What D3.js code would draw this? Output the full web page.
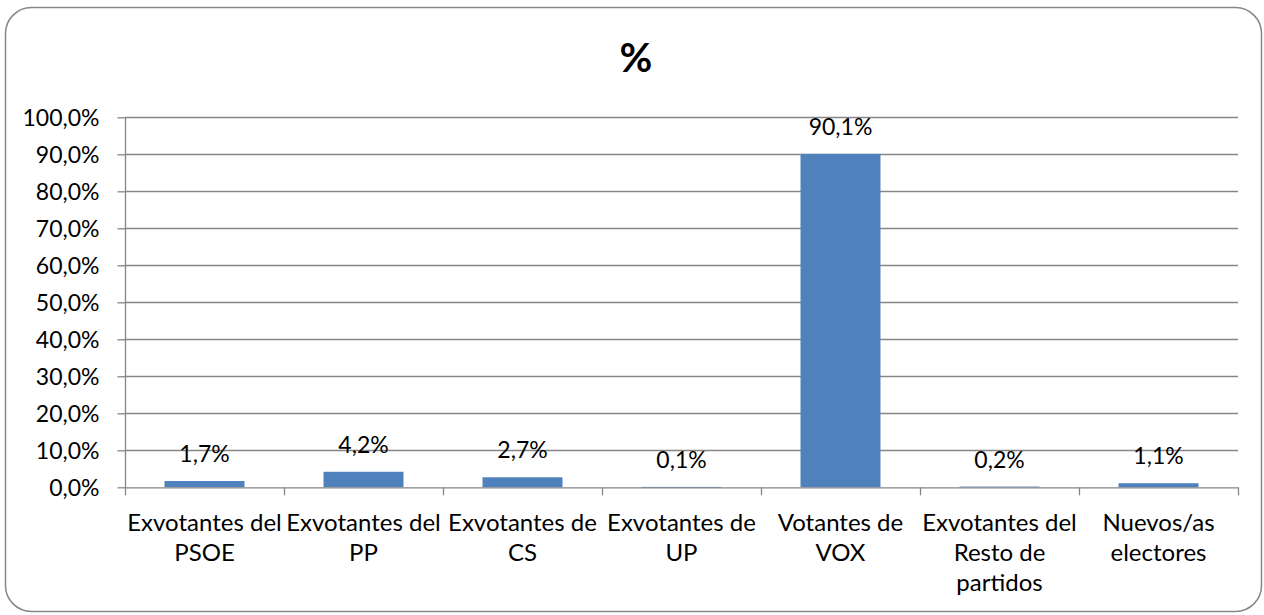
<!DOCTYPE html>
<html><head><meta charset="utf-8">
<script src="https://cdn.jsdelivr.net/npm/d3@7"></script>
<style>
html,body{margin:0;padding:0;background:#fff;}
svg{display:block;}
text{font-family:Lato,"Open Sans",sans-serif;fill:#000;}
</style></head>
<body><svg id="chart" width="1264" height="615"></svg>
<script>
const categories = [
  ["Exvotantes del","PSOE"],
  ["Exvotantes del","PP"],
  ["Exvotantes de","CS"],
  ["Exvotantes de","UP"],
  ["Votantes de","VOX"],
  ["Exvotantes del","Resto de","partidos"],
  ["Nuevos/as","electores"]
];
const values = [1.7, 4.2, 2.7, 0.1, 90.1, 0.2, 1.1];
const yTicks = [0,10,20,30,40,50,60,70,80,90,100];
const title = "%";

(function(){
const svg = d3.select("#chart");
const locale = d3.formatLocale({decimal:",", thousands:".", grouping:[3], currency:["","€"]});
const fmtTick = v => locale.format(".1f")(v) + "%";
const fmtVal = v => locale.format(".1f")(v) + "%";

const grey = "#868686";
svg.append("rect").attr("x",5.5).attr("y",7.5).attr("width",1256).attr("height",604)
  .attr("rx",26).attr("ry",26).attr("fill","#fff").attr("stroke",grey).attr("stroke-width",1.5);

svg.append("text").attr("x",636).attr("y",72).attr("text-anchor","middle")
  .style("font-size","40px").style("font-weight","bold").text(title);

const pLeft = 125, pRight = 1238, pTop = 117.3, pBottom = 487.3;
const x = d3.scaleBand().domain(d3.range(categories.length)).range([pLeft,pRight]).padding(0);
const y = d3.scaleLinear().domain([0,100]).range([pBottom, pTop]);

svg.append("g").selectAll("line").data(yTicks.filter(t=>t>0)).join("line")
  .attr("x1",pLeft).attr("x2",pRight)
  .attr("y1",d=>Math.round(y(d))+0.5).attr("y2",d=>Math.round(y(d))+0.5)
  .attr("stroke",grey).attr("stroke-width",1.3);

const yAxis = svg.append("g").attr("transform",`translate(${pLeft+0.5},0)`)
  .call(d3.axisLeft(y).tickValues(yTicks).tickFormat(fmtTick).tickSize(8).tickPadding(18));
yAxis.select(".domain").attr("stroke",grey).attr("stroke-width",1.3).attr("d",`M0,${pTop}V${pBottom}`);
yAxis.selectAll(".tick line").attr("stroke",grey).attr("stroke-width",1.3);
yAxis.selectAll(".tick text").style("font-size","23px").style("font-family","Lato").attr("fill","#000").attr("dy","0.35em");

const bw = x.bandwidth()*0.503;
svg.append("g").selectAll("rect").data(values).join("rect")
  .attr("x",(d,i)=>x(i)+x.bandwidth()/2-bw/2)
  .attr("width",bw)
  .attr("y",d=>y(d))
  .attr("height",d=>Math.max(0.8,y(0)-y(d)))
  .attr("fill","#4F81BD");

svg.append("line").attr("x1",pLeft).attr("x2",pRight).attr("y1",pBottom+0.5).attr("y2",pBottom+0.5)
  .attr("stroke",grey).attr("stroke-width",1.3);
const bounds = d3.range(categories.length+1).map(i=> i<categories.length ? x(i) : pRight);
svg.append("g").selectAll("line").data(bounds).join("line")
  .attr("x1",d=>Math.round(d)+0.5).attr("x2",d=>Math.round(d)+0.5)
  .attr("y1",pBottom).attr("y2",pBottom+8).attr("stroke",grey).attr("stroke-width",1.3);

svg.append("g").selectAll("text").data(values).join("text")
  .attr("x",(d,i)=>x(i)+x.bandwidth()/2)
  .attr("y",d=>y(d)-19)
  .attr("text-anchor","middle").style("font-size","23px")
  .text(d=>fmtVal(d));

const cl = svg.append("g").selectAll("text").data(categories).join("text")
  .attr("text-anchor","middle").style("font-size","24px")
  .attr("transform",(d,i)=>`translate(${x(i)+x.bandwidth()/2},531)`);
cl.selectAll("tspan").data(d=>d).join("tspan")
  .attr("x",0).attr("y",(d,i)=>i*30).text(d=>d);
})();
</script></body></html>
